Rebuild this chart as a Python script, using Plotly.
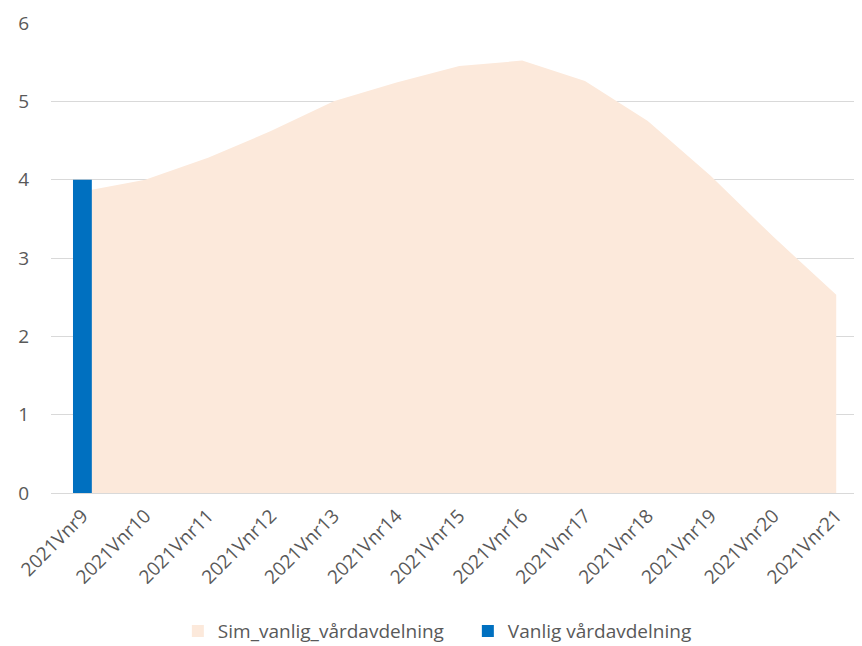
import plotly.graph_objects as go

categories = [f"2021Vnr{i}" for i in range(9, 22)]
sim_values = [3.85, 4.0, 4.28, 4.62, 5.0, 5.24, 5.45, 5.52, 5.26, 4.75, 4.05, 3.27, 2.53]
actual_values = [4, None, None, None, None, None, None, None, None, None, None, None, None]

FONT = "Open Sans, Noto Sans, sans-serif"
TEXT = "#595959"
PEACH = "#FCE9DB"
BLUE = "#0070C0"

fig = go.Figure()

# area series (legend entry drawn by a dummy bar so it gets a square swatch)
fig.add_trace(
    go.Scatter(
        x=categories,
        y=sim_values,
        name="Sim_vanlig_vårdavdelning",
        mode="lines",
        line=dict(width=0, color=PEACH),
        fill="tozeroy",
        fillcolor=PEACH,
        showlegend=False,
        legendgroup="sim",
    )
)

fig.add_trace(
    go.Bar(
        x=[None],
        y=[None],
        name="Sim_vanlig_vårdavdelning",
        marker=dict(color=PEACH, line=dict(width=0)),
        legendgroup="sim",
        xaxis="x2",
    )
)

# bar on an overlaying axis so it is drawn above the area
fig.add_trace(
    go.Bar(
        x=categories,
        y=actual_values,
        name="Vanlig vårdavdelning",
        marker=dict(color=BLUE, line=dict(width=0)),
        xaxis="x2",
    )
)

x_range = [-0.5, 12.41]

# page body adds an 8px offset, so the figure is a bit smaller than the window
fig.update_layout(
    width=854,
    height=638,
    plot_bgcolor="#FFFFFF",
    paper_bgcolor="#FFFFFF",
    font=dict(family=FONT, size=19, color=TEXT),
    bargap=0.7,
    barmode="overlay",
    margin=dict(l=43, r=0, t=15, b=153, autoexpand=False),
    xaxis=dict(
        type="category",
        categoryarray=categories,
        range=x_range,
        tickangle=-45,
        tickfont=dict(size=19, color=TEXT),
        showgrid=False,
        showline=False,
        ticks="",
        ticklabelstandoff=7,
        automargin=False,
    ),
    xaxis2=dict(
        type="category",
        categoryarray=categories,
        range=x_range,
        overlaying="x",
        visible=False,
        showgrid=False,
    ),
    yaxis=dict(
        range=[0, 6],
        dtick=1,
        tickfont=dict(size=19, color=TEXT),
        gridcolor="#D9D9D9",
        gridwidth=1,
        zeroline=True,
        zerolinecolor="#D9D9D9",
        zerolinewidth=1,
        ticks="",
        ticklabelstandoff=21,
        automargin=False,
    ),
    legend=dict(
        orientation="h",
        x=0.514,
        xanchor="center",
        y=-0.294,
        yanchor="middle",
        font=dict(size=19, color=TEXT),
        traceorder="normal",
        entrywidth=245,
        entrywidthmode="pixels",
    ),
)

fig.write_html("out.html")
